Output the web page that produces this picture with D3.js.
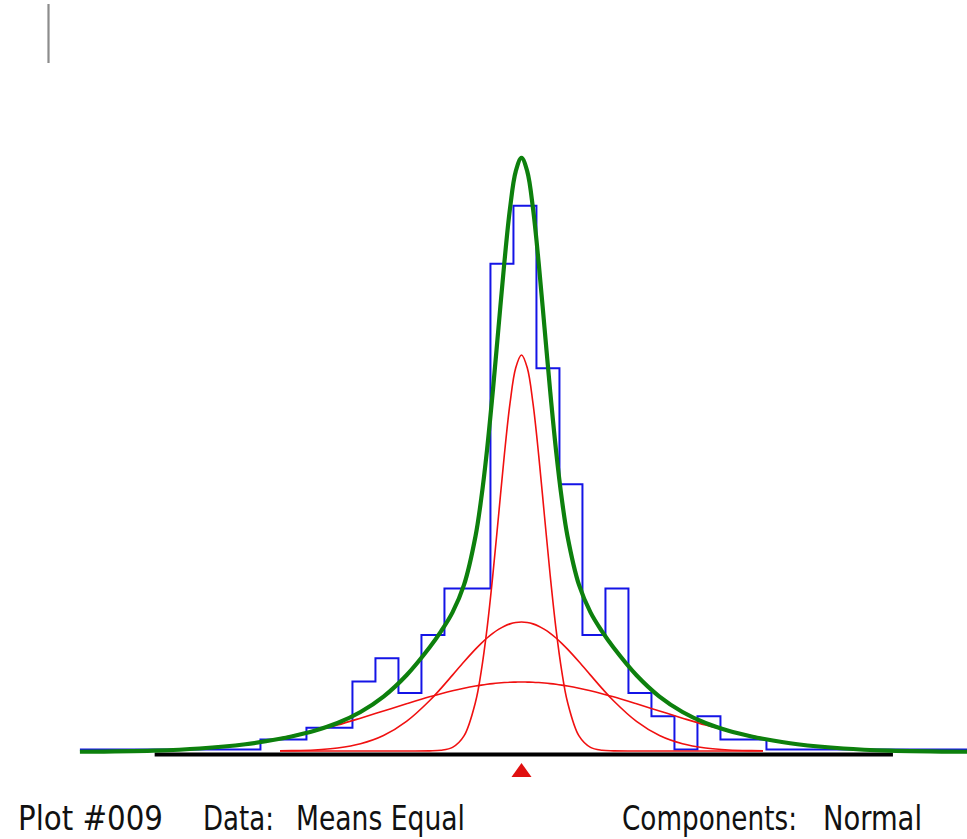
<!DOCTYPE html>
<html>
<head>
<meta charset="utf-8">
<script src="https://cdn.jsdelivr.net/npm/d3@7"></script>
<style>
  html, body { margin: 0; padding: 0; background: #fff; }
  svg { display: block; }
</style>
</head>
<body>
<svg id="chart" width="967" height="839"></svg>
<script>
// ---- data ----
const binWidth = 1;
const firstBinEdge = -11.35;
const binCounts = [1, 1, 2, 2, 6, 8, 5, 10, 14, 14, 42, 47, 33, 23, 10, 14, 5, 3, 0, 3, 1, 1, 0];
const histExtent = [-19.2, 19.5];
const baselineExtent = [-15.95, 16.15];
const componentExtent = [-10.5, 10.5];
const meanValue = 0;

const gridX = [-19.2, -16, -14, -12, -10.5, -10, -9, -8, -7, -6, -5, -4, -3.5, -3, -2.5, -2, -1.75, -1.5, -1.25, -1, -0.75, -0.5, -0.25,
  0, 0.25, 0.5, 0.75, 1, 1.25, 1.5, 1.75, 2, 2.5, 3, 3.5, 4, 5, 6, 7, 8, 9, 10, 10.5, 12, 14, 16, 19.5];
const narrowComp = [0, 0, 0, 0, 0, 0, 0, 0, 0, 0, 0, 0.01, 0.06, 0.31, 1.30, 4.22, 6.89, 10.53, 15.09, 20.24, 25.44, 29.96, 33.04,
  34.14, 33.04, 29.96, 25.44, 20.24, 15.09, 10.53, 6.89, 4.22, 1.30, 0.31, 0.06, 0.01, 0, 0, 0, 0, 0, 0, 0, 0, 0, 0, 0];
const mediumComp = [0, 0, 0, 0, 0.02, 0.03, 0.09, 0.26, 0.62, 1.33, 2.55, 4.33, 5.40, 6.54, 7.69, 8.78, 9.28, 9.74, 10.14, 10.48, 10.76, 10.96, 11.08,
  11.12, 11.08, 10.96, 10.76, 10.48, 10.14, 9.74, 9.28, 8.78, 7.69, 6.54, 5.40, 4.33, 2.55, 1.33, 0.62, 0.26, 0.09, 0.03, 0.02, 0, 0, 0, 0];
const wideComp = [0.02, 0.12, 0.30, 0.67, 1.12, 1.31, 1.74, 2.24, 2.83, 3.45, 4.07, 4.67, 4.94, 5.19, 5.41, 5.60, 5.68, 5.75, 5.81, 5.86, 5.90, 5.93, 5.94,
  5.95, 5.94, 5.93, 5.90, 5.86, 5.81, 5.75, 5.68, 5.60, 5.41, 5.19, 4.94, 4.67, 4.07, 3.45, 2.83, 2.24, 1.74, 1.31, 1.12, 0.67, 0.30, 0.12, 0.02];
const mixtureTotal = [0.02, 0.12, 0.30, 0.67, 1.14, 1.34, 1.83, 2.50, 3.45, 4.78, 6.62, 9.01, 10.40, 12.04, 14.40, 18.60, 21.85, 26.02, 31.04, 36.58, 42.10, 46.85, 50.06,
  51.21, 50.06, 46.85, 42.10, 36.58, 31.04, 26.02, 21.85, 18.60, 14.40, 12.04, 10.40, 9.01, 6.62, 4.78, 3.45, 2.50, 1.83, 1.34, 1.14, 0.67, 0.30, 0.12, 0.02];

const captionLeft = ["Plot #009", "Data:", "Means Equal"];
const captionRight = ["Components:", "Normal"];

// ---- drawing ----
const svg = d3.select("#chart");
svg.append("rect").attr("width", 967).attr("height", 839).attr("fill", "#fff");

const x = d3.scaleLinear().domain([-20, 20]).range([61.5, 981.5]);
const y = d3.scaleLinear().domain([0, 60]).range([751, 55]);

// small gray marker line at top-left
svg.append("line")
  .attr("x1", 48.5).attr("x2", 48.5).attr("y1", 4).attr("y2", 63)
  .attr("stroke", "#8c8c8c").attr("stroke-width", 2.2);

// histogram outline (step path)
let pathD = `M${x(histExtent[0])},${y(0) - 1.5}`;
binCounts.forEach((c, i) => {
  const x0 = firstBinEdge + i * binWidth;
  pathD += `H${x(x0)}V${y(c) - (c === 0 ? 1.5 : 0)}H${x(x0 + binWidth)}`;
});
pathD += `V${y(0) - 1.5}H${x(histExtent[1])}`;
svg.append("path")
  .attr("d", pathD)
  .attr("fill", "none")
  .attr("stroke", "#1414e6")
  .attr("stroke-width", 2);

// black baseline
svg.append("line")
  .attr("x1", x(baselineExtent[0])).attr("x2", x(baselineExtent[1]))
  .attr("y1", y(0) + 3.5).attr("y2", y(0) + 3.5)
  .attr("stroke", "#000").attr("stroke-width", 4);

// component curves
const compLine = d3.line()
  .defined(d => d[0] >= componentExtent[0] && d[0] <= componentExtent[1])
  .x(d => x(d[0])).y(d => y(d[1]))
  .curve(d3.curveCatmullRom.alpha(0.5));
[narrowComp, mediumComp, wideComp].forEach(arr => {
  svg.append("path")
    .datum(gridX.map((g, i) => [g, arr[i]]))
    .attr("d", compLine)
    .attr("fill", "none")
    .attr("stroke", "#f01010")
    .attr("stroke-width", 1.6);
});

// mixture curve
const totLine = d3.line()
  .x(d => x(d[0])).y(d => y(d[1]) + 1)
  .curve(d3.curveCatmullRom.alpha(0.5));
svg.append("path")
  .datum(gridX.map((g, i) => [g, mixtureTotal[i]]))
  .attr("d", totLine)
  .attr("fill", "none")
  .attr("stroke", "#0d800d")
  .attr("stroke-width", 4.2)
  .attr("stroke-linejoin", "round");

// mean marker
const mx = x(meanValue);
const my = y(0) + 12;
svg.append("path")
  .attr("d", `M${mx - 10},${my + 14}L${mx},${my}L${mx + 10},${my + 14}Z`)
  .attr("fill", "#e01010");

// caption
const capFont = "'DejaVu Sans Condensed', 'Liberation Sans Narrow', 'DejaVu Sans', sans-serif";
const capSpecs = [
  { t: captionLeft[0], x: 18, w: 145 },
  { t: captionLeft[1], x: 203, w: 71 },
  { t: captionLeft[2], x: 296, w: 169 },
  { t: captionRight[0], x: 622, w: 175 },
  { t: captionRight[1], x: 823, w: 99 }
];
capSpecs.forEach(s => {
  svg.append("text")
    .attr("x", s.x).attr("y", 830)
    .attr("font-family", capFont)
    .attr("font-size", 34)
    .attr("fill", "#111")
    .attr("textLength", s.w)
    .attr("lengthAdjust", "spacingAndGlyphs")
    .text(s.t);
});
</script>
</body>
</html>
